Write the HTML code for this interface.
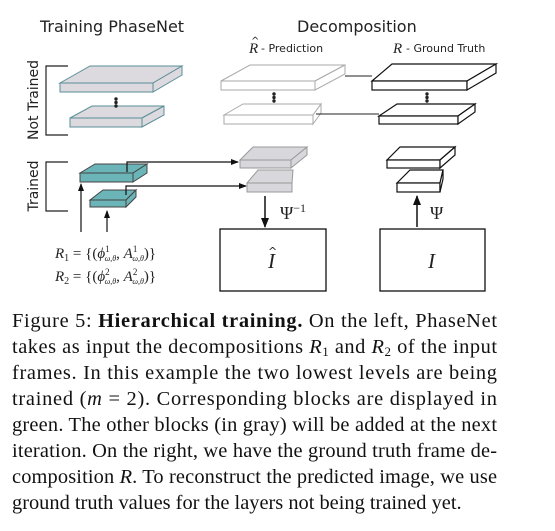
<!DOCTYPE html>
<html><head><meta charset="utf-8"><style>
html,body{margin:0;padding:0;background:#fff;}
svg{display:block;}
.s{font-family:"DejaVu Sans","Liberation Sans",sans-serif;fill:#222;}
.m{font-family:"Liberation Serif",serif;font-style:italic;fill:#222;}
.c{font-family:"Liberation Serif",serif;font-size:20.4px;fill:#111;}
</style></head><body>
<svg width="555" height="531" viewBox="0 0 555 531" xmlns="http://www.w3.org/2000/svg">
<defs><marker id="a" markerWidth="8" markerHeight="8" refX="7" refY="4" orient="auto" markerUnits="userSpaceOnUse"><path d="M0,1 L8,4 L0,7 z" fill="#111"/></marker>
<marker id="b" markerWidth="10" markerHeight="10" refX="9" refY="5" orient="auto" markerUnits="userSpaceOnUse"><path d="M0,1 L10,5 L0,9 z" fill="#111"/></marker></defs>

<text class="s" x="40" y="32" font-size="16">Training PhaseNet</text>
<text class="s" x="297" y="32" font-size="16">Decomposition</text>
<text class="m" x="249" y="53" font-size="15">R</text><text class="s" x="251" y="44" font-size="10">^</text>
<text class="s" x="261" y="52" font-size="11">- Prediction</text>
<text class="m" x="393" y="53" font-size="15">R</text>
<text class="s" x="406" y="52" font-size="11">- Ground Truth</text>

<path d="M68,66 H46 V135 H68" fill="none" stroke="#222" stroke-width="1.2"/>
<path d="M68,162 H46 V211 H68" fill="none" stroke="#222" stroke-width="1.2"/>
<text class="s" font-size="14" transform="translate(38,100) rotate(-90)" text-anchor="middle">Not Trained</text>
<text class="s" font-size="14" transform="translate(38,186) rotate(-90)" text-anchor="middle">Trained</text>

<g fill="#dcdadf" stroke="#5a8f98" stroke-width="1">
<path d="M60,83 L90,66 L182,66 L153,83 Z"/><rect x="60" y="83" width="93" height="9"/><path d="M153,83 L182,66 L182,75 L153,92 Z"/>
<path d="M70,118 L92,106 L164,106 L142,118 Z"/><rect x="70" y="118" width="72" height="9"/><path d="M142,118 L164,106 L164,115 L142,127 Z"/>
</g>
<g fill="#222"><circle cx="116" cy="99" r="1.7"/><circle cx="116" cy="102.5" r="1.7"/><circle cx="116" cy="106" r="1.7"/></g>

<g fill="#6bb5b8" stroke="#444" stroke-width="1">
<path d="M80,173 L95,164 L147,164 L133,173 Z"/><rect x="80" y="173" width="53" height="9"/><path d="M133,173 L147,164 L147,173 L133,182 Z"/>
<path d="M90,200 L103,190 L136,190 L126,200 Z"/><rect x="90" y="200" width="36" height="7"/><path d="M126,200 L136,190 L136,197 L126,207 Z"/>
</g>
<g stroke="#111" stroke-width="1.2" fill="none">
<path d="M127,172 V162 H238" marker-end="url(#a)"/>
<path d="M126,195 V186 H246" marker-end="url(#a)"/>
<path d="M81,232 V184" marker-end="url(#a)"/>
<path d="M107,232 V211" marker-end="url(#a)"/>
</g>
<text class="m" x="55" y="258" font-size="15">R<tspan font-size="10" dy="3" font-style="normal">1</tspan><tspan dy="-3" font-style="normal"> = {(</tspan>ϕ<tspan font-size="9" dy="-6" font-style="normal">1</tspan><tspan font-size="8" dy="9" dx="-5">ω,θ</tspan><tspan dy="-3" font-style="normal">, </tspan>A<tspan font-size="9" dy="-6" font-style="normal">1</tspan><tspan font-size="8" dy="9" dx="-5">ω,θ</tspan><tspan dy="-3" font-style="normal">)}</tspan></text>
<text class="m" x="55" y="281" font-size="15">R<tspan font-size="10" dy="3" font-style="normal">2</tspan><tspan dy="-3" font-style="normal"> = {(</tspan>ϕ<tspan font-size="9" dy="-6" font-style="normal">2</tspan><tspan font-size="8" dy="9" dx="-5">ω,θ</tspan><tspan dy="-3" font-style="normal">, </tspan>A<tspan font-size="9" dy="-6" font-style="normal">2</tspan><tspan font-size="8" dy="9" dx="-5">ω,θ</tspan><tspan dy="-3" font-style="normal">)}</tspan></text>

<g fill="#fff" stroke="#aaa" stroke-width="1">
<path d="M221,81 L250,65 L345,65 L315,81 Z"/><rect x="221" y="81" width="94" height="9"/><path d="M315,81 L345,65 L345,74 L315,90 Z"/>
<path d="M224,115 L243,104 L321,104 L313,115 Z"/><rect x="224" y="115" width="89" height="9"/><path d="M313,115 L321,104 L321,113 L313,124 Z"/>
</g>
<g fill="#222"><circle cx="274" cy="94" r="1.7"/><circle cx="274" cy="97.5" r="1.7"/><circle cx="274" cy="101" r="1.7"/></g>
<g fill="#fff" stroke="#111" stroke-width="1.2">
<path d="M372,81 L392,64 L496,64 L467,81 Z"/><rect x="372" y="81" width="95" height="9"/><path d="M467,81 L496,64 L496,73 L467,90 Z"/>
<path d="M379,116 L397,104 L475,104 L458,116 Z"/><rect x="379" y="116" width="79" height="8"/><path d="M458,116 L475,104 L475,112 L458,124 Z"/>
</g>
<g fill="#222"><circle cx="427" cy="94" r="1.7"/><circle cx="427" cy="97.5" r="1.7"/><circle cx="427" cy="101" r="1.7"/></g>
<line x1="345" y1="76" x2="372" y2="76" stroke="#222"/>
<line x1="316" y1="114" x2="379" y2="114" stroke="#222"/>

<g fill="#d8d7db" stroke="#999" stroke-width="1">
<path d="M240,160 L253,147 L307,147 L291,160 Z"/><rect x="240" y="160" width="51" height="8"/><path d="M291,160 L307,147 L307,155 L291,168 Z"/>
<path d="M247,183 L258,170 L293,170 L292,183 Z"/><rect x="247" y="183" width="45" height="9"/>
</g>
<g fill="#fff" stroke="#111" stroke-width="1.2">
<path d="M387,160 L400,147 L455,147 L440,160 Z"/><rect x="387" y="160" width="53" height="8"/><path d="M440,160 L455,147 L455,155 L440,168 Z"/>
<path d="M397,183 L410,170 L443,170 L440,183 Z"/><rect x="397" y="183" width="43" height="9"/><path d="M440,183 L443,170 L443,179 L440,192 Z"/>
</g>
<path d="M265,196 V227" stroke="#111" stroke-width="1.5" marker-end="url(#b)"/>
<path d="M417,227 V196" stroke="#111" stroke-width="1.5" marker-end="url(#b)"/>
<text x="280" y="219" font-family="Liberation Serif,serif" font-size="18" fill="#222">Ψ<tspan font-size="12" dy="-7">−1</tspan></text>
<text x="430" y="219" font-family="Liberation Serif,serif" font-size="18" fill="#222">Ψ</text>
<rect x="220" y="229" width="106" height="62" fill="none" stroke="#111" stroke-width="1.3"/>
<rect x="380" y="229" width="105" height="62" fill="none" stroke="#111" stroke-width="1.3"/>
<text class="m" x="268" y="268" font-size="21">I</text><text class="s" x="268" y="255" font-size="11">^</text>
<text class="m" x="428" y="268" font-size="21">I</text>

<text class="c" x="12" y="327" textLength="485" lengthAdjust="spacing">Figure 5: <tspan font-weight="bold">Hierarchical training.</tspan>  On the left, PhaseNet</text>
<text class="c" x="12" y="353" textLength="485" lengthAdjust="spacing">takes as input the decompositions <tspan font-style="italic">R</tspan><tspan font-size="13" dy="3">1</tspan><tspan dy="-3"> and </tspan><tspan font-style="italic">R</tspan><tspan font-size="13" dy="3">2</tspan><tspan dy="-3"> of the input</tspan></text>
<text class="c" x="12" y="379" textLength="485" lengthAdjust="spacing">frames.  In this example the two lowest levels are being</text>
<text class="c" x="12" y="405" textLength="485" lengthAdjust="spacing">trained (<tspan font-style="italic">m</tspan> = 2).  Corresponding blocks are displayed in</text>
<text class="c" x="12" y="431" textLength="485" lengthAdjust="spacing">green. The other blocks (in gray) will be added at the next</text>
<text class="c" x="12" y="457" textLength="485" lengthAdjust="spacing">iteration. On the right, we have the ground truth frame de-</text>
<text class="c" x="12" y="483" textLength="485" lengthAdjust="spacing">composition <tspan font-style="italic">R</tspan>. To reconstruct the predicted image, we use</text>
<text class="c" x="12" y="509">ground truth values for the layers not being trained yet.</text>
</svg>
</body></html>
